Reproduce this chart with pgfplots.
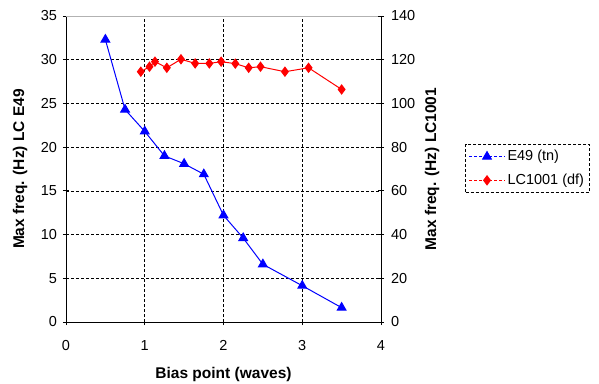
\documentclass[border=0pt]{standalone}
\usepackage{pgfplots}
\pgfplotsset{compat=1.18}
\usepackage{fontspec}
\setmainfont{Liberation Sans}
\begin{document}
\fontsize{14.5pt}{17pt}\selectfont
\begin{tikzpicture}
\useasboundingbox (0,0) rectangle (599pt,383pt);
\pgfplotsset{
  every axis/.append style={
    scale only axis, width=315pt, height=306pt,
    at={(66pt,61pt)}, anchor=south west,
    xmin=0, xmax=4, xtick={0,1,2,3,4},
    tick align=center, major tick length=6pt,
    tick style={black, line width=0.8pt},
    axis line style={black, line width=0.9pt},
    /pgf/number format/assume math mode=true,
    tick label style={font=\fontsize{14.5pt}{17pt}\selectfont},
    label style={font=\bfseries\fontsize{15.5pt}{18pt}\selectfont},
  }
}
\begin{axis}[
  axis x line*=bottom, axis y line*=left,
  ymin=0, ymax=35, ytick={0,5,...,35},
  grid=major, major grid style={black, densely dashed, line width=0.7pt},
  xlabel={Bias point (waves)},
  ylabel={Max freq. (Hz) LC E49},
  xlabel style={at={(axis description cs:0.5,-0.17)}, anchor=center},
  ylabel style={at={(axis description cs:-0.146,0.5)}, anchor=center},
  xticklabel style={yshift=-10pt},
  yticklabel style={xshift=-1pt},
]
\addplot[blue, line width=1pt, mark=triangle*, mark size=5pt] coordinates {
(0.5,32.3) (0.75,24.3) (1.0,21.8) (1.25,19.0) (1.5,18.1) (1.75,16.9)
(2.0,12.2) (2.25,9.6) (2.5,6.6) (3.0,4.15) (3.5,1.64)};
\draw[gray!60, line width=0.8pt] (axis cs:0,35) -- (axis cs:4,35);
\end{axis}
\begin{axis}[
  axis x line=none, axis y line*=right,
  ymin=0, ymax=140, ytick={0,20,...,140},
  ylabel={Max freq. (Hz) LC1001},
  ylabel style={at={(axis description cs:1.162,0.5)}, anchor=center},
  yticklabel style={xshift=2pt},
  legend image code/.code={\draw[mark repeat=2, mark phase=2, #1] plot coordinates {(0pt,0pt) (18pt,0pt) (36pt,0pt)};},
  legend style={at={(axis description cs:1.267,0.582)}, anchor=north west,
    draw=black, densely dashed, line width=0.8pt,
    font=\fontsize{14.5pt}{17pt}\selectfont, row sep=7pt, inner xsep=3pt, inner ysep=4pt},
  legend cell align=left,
]
\addlegendimage{blue, densely dashed, line width=1pt, mark=triangle*, mark size=5pt, mark options={solid}}
\addlegendentry{E49 (tn)}
\addlegendimage{red, densely dashed, line width=1pt, mark=diamond*, mark size=4.5pt, mark options={solid}}
\addlegendentry{LC1001 (df)}
\addplot[red, line width=1pt, mark=diamond*, mark size=4.5pt, forget plot] coordinates {
(0.95,114.5) (1.06,116.8) (1.13,119.1) (1.28,116.3) (1.46,120.2) (1.64,118.3)
(1.82,118.3) (1.97,119.1) (2.15,118.2) (2.32,116.3) (2.47,116.8) (2.78,114.5)
(3.08,116.3) (3.5,106.4)};
\end{axis}
\end{tikzpicture}
\end{document}
